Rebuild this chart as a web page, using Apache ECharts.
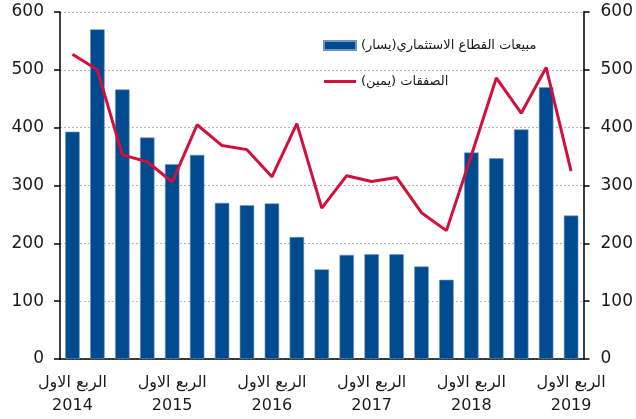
<!DOCTYPE html>
<html>
<head>
<meta charset="utf-8">
<script src="https://cdn.jsdelivr.net/npm/echarts@6/dist/echarts.min.js"></script>
<style>
  html, body { margin: 0; padding: 0; background: #fff; }
  #chart { width: 636px; height: 419px; }
</style>
</head>
<body>
<div id="chart"></div>
<script type="text/javascript">
	// quarters 2014 Q1 .. 2019 Q1
	var years = ['2014', '2015', '2016', '2017', '2018', '2019'];
	var quarterLabel = 'الربع الاول';
	var salesName = 'مبيعات القطاع الاستثماري(يسار)';
	var dealsName = 'الصفقات (يمين)';
	var sales = [393, 570, 466, 383, 337, 353, 270, 266, 269, 211, 155, 180, 181, 181, 160, 137, 357, 347, 397, 470, 248];
	var deals = [527, 500, 353, 341, 306, 405, 369, 362, 315, 407, 261, 317, 307, 314, 253, 222, 352, 486, 425, 504, 325];

	var categories = [];
	for (var i = 0; i < sales.length; i++) {
		categories.push(i % 4 === 0 ? quarterLabel + '\n' + years[i / 4] : '');
	}

	var chart = echarts.init(document.getElementById('chart'));
	var axisText = { color: '#1a1a1a', fontSize: 17, fontFamily: 'DejaVu Sans' };
	var option = {
		animation: false,
		grid: { left: 60, right: 52, top: 12, bottom: 60 },
		legend: {
			orient: 'vertical',
			left: 318,
			top: 34,
			itemWidth: 32,
			itemHeight: 9,
			itemGap: 23,
			symbolKeepAspect: true,
			textStyle: { fontSize: 13, color: '#1a1a1a', fontFamily: 'DejaVu Sans' },
			data: [
				{ name: salesName, icon: 'path://M0,0 H32 V9 H0 Z' },
				{ name: dealsName, icon: 'path://M0,0 H32 V3 H0 Z' }
			]
		},
		xAxis: {
			type: 'category',
			data: categories,
			axisLine: { lineStyle: { color: '#000', width: 1.5 } },
			axisTick: {
				length: 6,
				lineStyle: { color: '#000', width: 1.5 },
				interval: function (index) { return index % 4 === 0; }
			},
			axisLabel: {
				interval: 0,
				margin: 12,
				lineHeight: 23,
				color: '#1a1a1a',
				fontSize: 16,
				fontFamily: 'DejaVu Sans'
			}
		},
		yAxis: [
			{
				type: 'value',
				min: 0, max: 600, interval: 100,
				axisLine: { show: true, lineStyle: { color: '#000', width: 1.5 } },
				axisTick: { show: true, length: 6, lineStyle: { color: '#000', width: 1.5 } },
				axisLabel: Object.assign({ margin: 16 }, axisText),
				splitLine: { lineStyle: { color: '#b5b5b5', type: [2, 2], width: 1 } }
			},
			{
				type: 'value',
				min: 0, max: 600, interval: 100,
				axisLine: { show: true, lineStyle: { color: '#000', width: 1.5 } },
				axisTick: { show: true, length: 6, lineStyle: { color: '#000', width: 1.5 } },
				axisLabel: Object.assign({ margin: 17 }, axisText),
				splitLine: { show: false }
			}
		],
		series: [
			{
				name: salesName,
				type: 'bar',
				barWidth: '58%',
				itemStyle: { color: '#004a8f', borderColor: '#6f95c4', borderWidth: 0.6 },
				data: sales
			},
			{
				name: dealsName,
				type: 'line',
				yAxisIndex: 1,
				symbol: 'none',
				lineStyle: { color: '#d3103c', width: 3 },
				itemStyle: { color: '#d3103c' },
				data: deals
			}
		]
	};
	chart.setOption(option);
</script>
</body>
</html>
